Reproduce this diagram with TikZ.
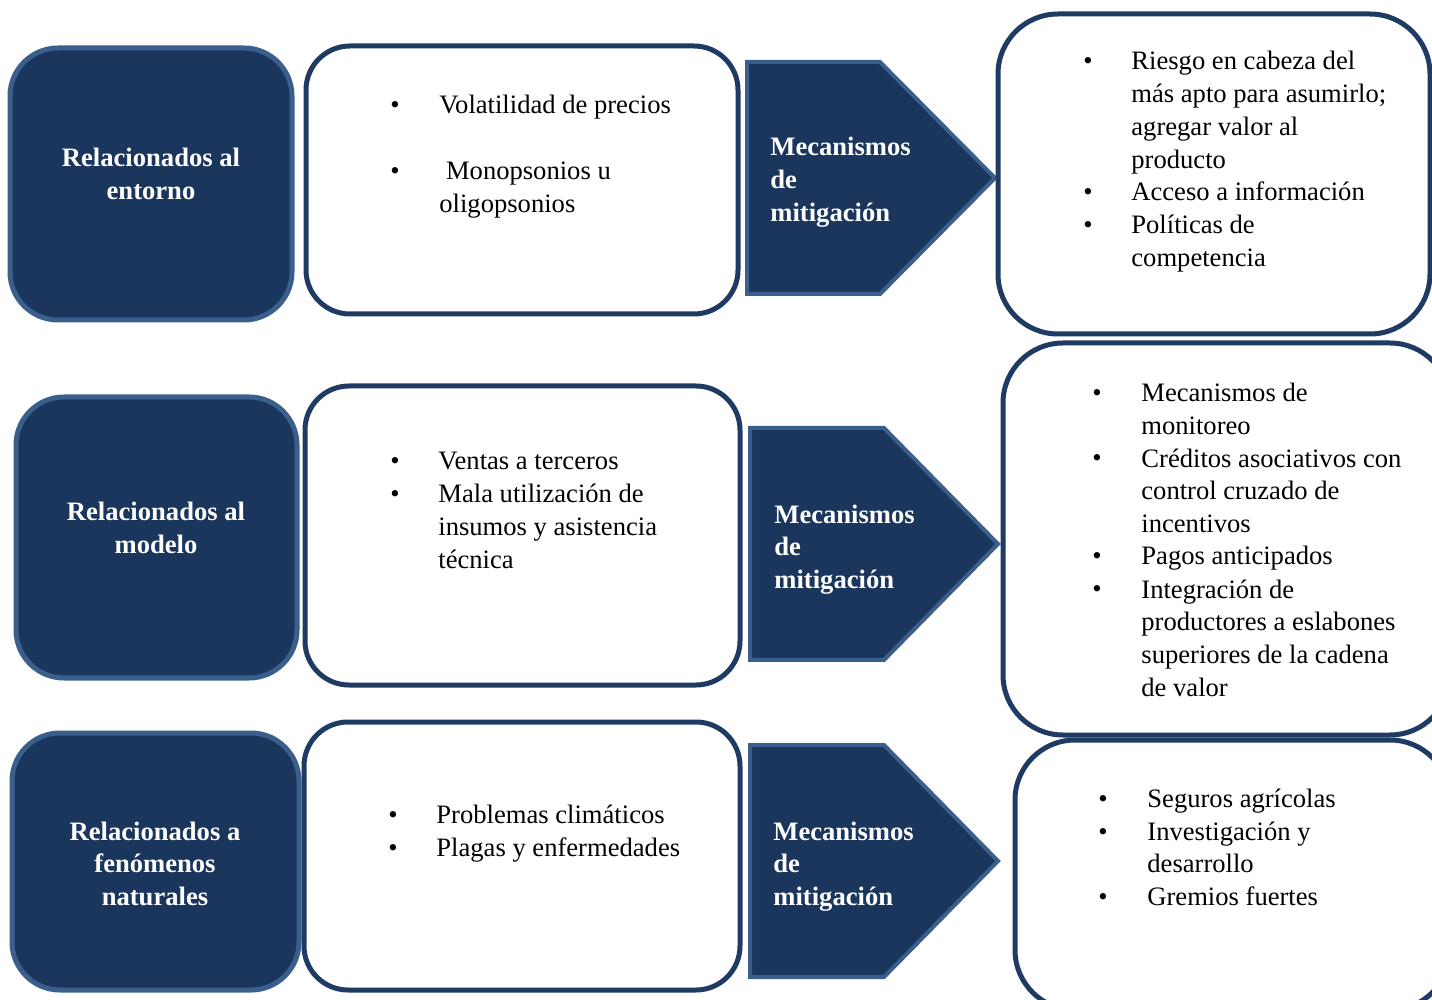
\documentclass[tikz,border=0pt]{standalone}
\usepackage{fontspec}
\setmainfont{Liberation Serif}
\usepackage{xcolor}
\usepackage{tikz}

\definecolor{navy}{HTML}{1B365D}
\definecolor{navyedge}{HTML}{3B5F8C}
\definecolor{boxedge}{HTML}{1F3B63}
\newcommand{\txt}{\fontsize{13.3}{16.4}\selectfont}
% base of a multi-line node is its last line: one line = 32.8 units
\newcommand{\ls}{32.8}

\begin{document}
\begin{tikzpicture}[x=0.5pt,y=-0.5pt,
    every node/.style={inner sep=0pt, font=\txt, yshift=-1pt},
    riskbox/.style={fill=navy, draw=navyedge, line width=2.5pt, rounded corners=24pt},
    listbox/.style={fill=white, draw=boxedge, line width=2.5pt, rounded corners=22pt},
    bigbox/.style={listbox, rounded corners=30pt},
    mitig/.style={fill=navy, draw=navyedge, line width=2pt},
    head/.style={text=white, font=\txt\bfseries, align=center, anchor=base},
    mtext/.style={text=white, font=\txt\bfseries, align=left, anchor=base west},
    dot/.style={anchor=base},
    item/.style={align=left, anchor=base west}]
  \useasboundingbox (0,0) rectangle (1432,1000);

  % row 1: entorno
  \filldraw[riskbox] (10,48) rectangle (292,320);
  \node[head] (entorno) at (151,{165+\ls}) {Relacionados al\\entorno};
  \filldraw[listbox] (306,46) rectangle (738,314);
  \node[dot] (b11) at (395,112) {\textbullet};
  \node[item] (volat) at (439,112) {Volatilidad de precios};
  \node[dot] (b12) at (395,178) {\textbullet};
  \node[item] (monop) at (439,{178+\ls}) {\ Monopsonios u\\oligopsonios};
  \filldraw[mitig] (747,62) -- (880,62) -- (995,178) -- (880,294) -- (747,294) -- cycle;
  \node[mtext] (mitig1) at (770,{154+2*\ls}) {Mecanismos\\de\\mitigación};
  \filldraw[bigbox] (998,14) rectangle (1430,334);
  \node[dot] (r11) at (1088,68) {\textbullet};
  \node[item] (riesgo) at (1131,{68+3*\ls}) {Riesgo en cabeza del\\más apto para asumirlo;\\agregar valor al\\producto};
  \node[dot] (r12) at (1088,199) {\textbullet};
  \node[item] (acceso) at (1131,199) {Acceso a información};
  \node[dot] (r13) at (1088,232) {\textbullet};
  \node[item] (politicas) at (1131,{232+\ls}) {Políticas de\\competencia};

  % row 2: modelo
  \filldraw[riskbox] (16,397) rectangle (297,678);
  \node[head] (modelo) at (156,{519+\ls}) {Relacionados al\\modelo};
  \filldraw[listbox] (305,386) rectangle (740,685);
  \node[dot] (b21) at (395,468) {\textbullet};
  \node[item] (ventas) at (438,468) {Ventas a terceros};
  \node[dot] (b22) at (395,501) {\textbullet};
  \node[item] (mala) at (438,{501+2*\ls}) {Mala utilización de\\insumos y asistencia\\técnica};
  \filldraw[mitig] (750,428) -- (884,428) -- (998,544) -- (884,660) -- (750,660) -- cycle;
  \node[mtext] (mitig2) at (774,{521+2*\ls}) {Mecanismos\\de\\mitigación};
  \filldraw[bigbox] (1003,343) rectangle (1450,735);
  \node[dot] (r21) at (1097,400) {\textbullet};
  \node[item] (monit) at (1141,{400+\ls}) {Mecanismos de\\monitoreo};
  \node[dot] (r22) at (1097,465) {\textbullet};
  \node[item] (creditos) at (1141,{465+2*\ls}) {Créditos asociativos con\\control cruzado de\\incentivos};
  \node[dot] (r23) at (1097,563) {\textbullet};
  \node[item] (pagos) at (1141,563) {Pagos anticipados};
  \node[dot] (r24) at (1097,596) {\textbullet};
  \node[item] (integ) at (1141,{596+3*\ls}) {Integración de\\productores a eslabones\\superiores de la cadena\\de valor};

  % row 3: fenomenos naturales
  \filldraw[riskbox] (12,733) rectangle (299,990);
  \node[head] (natural) at (155,{838+2*\ls}) {Relacionados a\\fenómenos\\naturales};
  \filldraw[listbox] (304,722) rectangle (740,990);
  \node[dot] (b31) at (393,821) {\textbullet};
  \node[item] (clima) at (436,821) {Problemas climáticos};
  \node[dot] (b32) at (393,854) {\textbullet};
  \node[item] (plagas) at (436,854) {Plagas y enfermedades};
  \filldraw[mitig] (750,745) -- (884,745) -- (998,861) -- (884,977) -- (750,977) -- cycle;
  \node[mtext] (mitig3) at (773,{838+2*\ls}) {Mecanismos\\de\\mitigación};
  \filldraw[bigbox] (1015,740) rectangle (1450,1010);
  \node[dot] (r31) at (1103,805) {\textbullet};
  \node[item] (seguros) at (1147,805) {Seguros agrícolas};
  \node[dot] (r32) at (1103,838) {\textbullet};
  \node[item] (investig) at (1147,{838+\ls}) {Investigación y\\desarrollo};
  \node[dot] (r33) at (1103,903) {\textbullet};
  \node[item] (gremios) at (1147,903) {Gremios fuertes};
\end{tikzpicture}
\end{document}
